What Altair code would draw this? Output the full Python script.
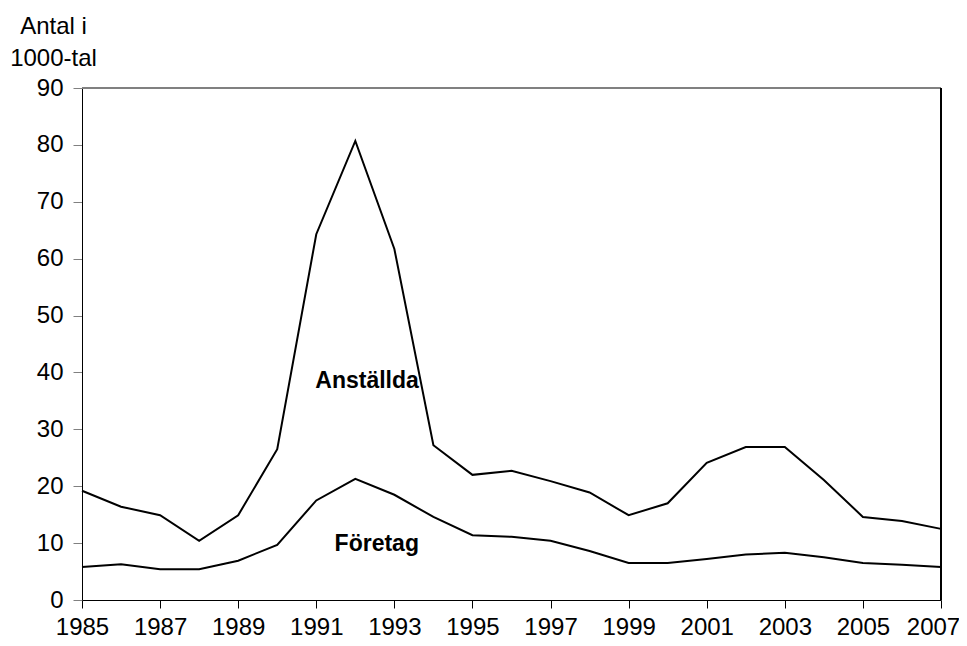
import altair as alt
import pandas as pd

years = list(range(1985, 2008))
anstallda = [19.2, 16.4, 14.9, 10.4, 14.9, 26.5, 64.3, 80.7, 61.7, 27.2, 22.0, 22.7,
             20.9, 18.9, 14.9, 17.0, 24.1, 26.9, 26.9, 21.1, 14.6, 13.9, 12.5]
foretag = [5.8, 6.3, 5.4, 5.4, 6.9, 9.7, 17.5, 21.3, 18.5, 14.6, 11.4, 11.1,
           10.4, 8.6, 6.5, 6.5, 7.2, 8.0, 8.3, 7.5, 6.5, 6.2, 5.8]

series_names = ["Anställda", "Företag"]
label_x = [1992.3, 1992.55]
label_y = [38.5, 9.8]

rows = []
for y, a, f in zip(years, anstallda, foretag):
    rows.append({"year": y, "value": a, "series": "Anställda"})
    rows.append({"year": y, "value": f, "series": "Företag"})
df = pd.DataFrame(rows)
labels = pd.DataFrame({"series": series_names, "x": label_x, "y": label_y})

FONT = "Liberation Sans"

xscale = alt.Scale(domain=[1985, 2007], nice=False, zero=False)
yscale = alt.Scale(domain=[0, 90], nice=False)

lines = alt.Chart(df).mark_line(color="black", strokeWidth=2).encode(
    x=alt.X("year:Q", scale=xscale,
            axis=alt.Axis(values=years, format="d", title=None, grid=False,
                          labelExpr="(datum.value - 1985) % 2 == 0 ? datum.label : ''",
                          labelFont=FONT, labelFontSize=24, labelColor="black",
                          labelPadding=7, tickSize=8, tickColor="black",
                          labelOffset={"condition": {"test": "datum.value == 2007", "value": -8},
                                       "value": 0},
                          domainColor="black", labelOverlap=False,
                          labelFlush=False)),
    y=alt.Y("value:Q", scale=yscale,
            axis=alt.Axis(values=list(range(0, 100, 10)), title=["Antal i", "1000-tal"],
                          titleAngle=0, titleAlign="center", titleBaseline="alphabetic",
                          titleX=-29, titleY=-55, titleFont=FONT, titleFontSize=24,
                          titleFontWeight="normal", titleColor="black", titleLineHeight=32,
                          grid=False, labelFont=FONT, labelFontSize=24, labelColor="black",
                          labelPadding=10, tickSize=9, tickColor="#808080",
                          domainColor="black")),
    detail="series:N",
)

top_rule = alt.Chart(pd.DataFrame({"v": [90]})).mark_rule(color="#808080", strokeWidth=2).encode(
    y=alt.Y("v:Q", scale=yscale)
)
right_rule = alt.Chart(pd.DataFrame({"v": [2007]})).mark_rule(color="black", strokeWidth=2).encode(
    x=alt.X("v:Q", scale=xscale)
)

text = alt.Chart(labels).mark_text(font=FONT, fontSize=23, fontWeight="bold",
                                   color="black", align="center", baseline="middle").encode(
    x=alt.X("x:Q", scale=xscale),
    y=alt.Y("y:Q", scale=yscale),
    text="series:N",
)

chart = alt.layer(top_rule, right_rule, lines, text).properties(
    width=859, height=512,
    autosize=alt.AutoSizeParams(type="none"),
    padding={"left": 74, "top": 80, "right": 18, "bottom": 38},
).configure_view(stroke=None).configure(background="white")

chart.save("out.html", embed_options={"renderer": "svg", "actions": False})
